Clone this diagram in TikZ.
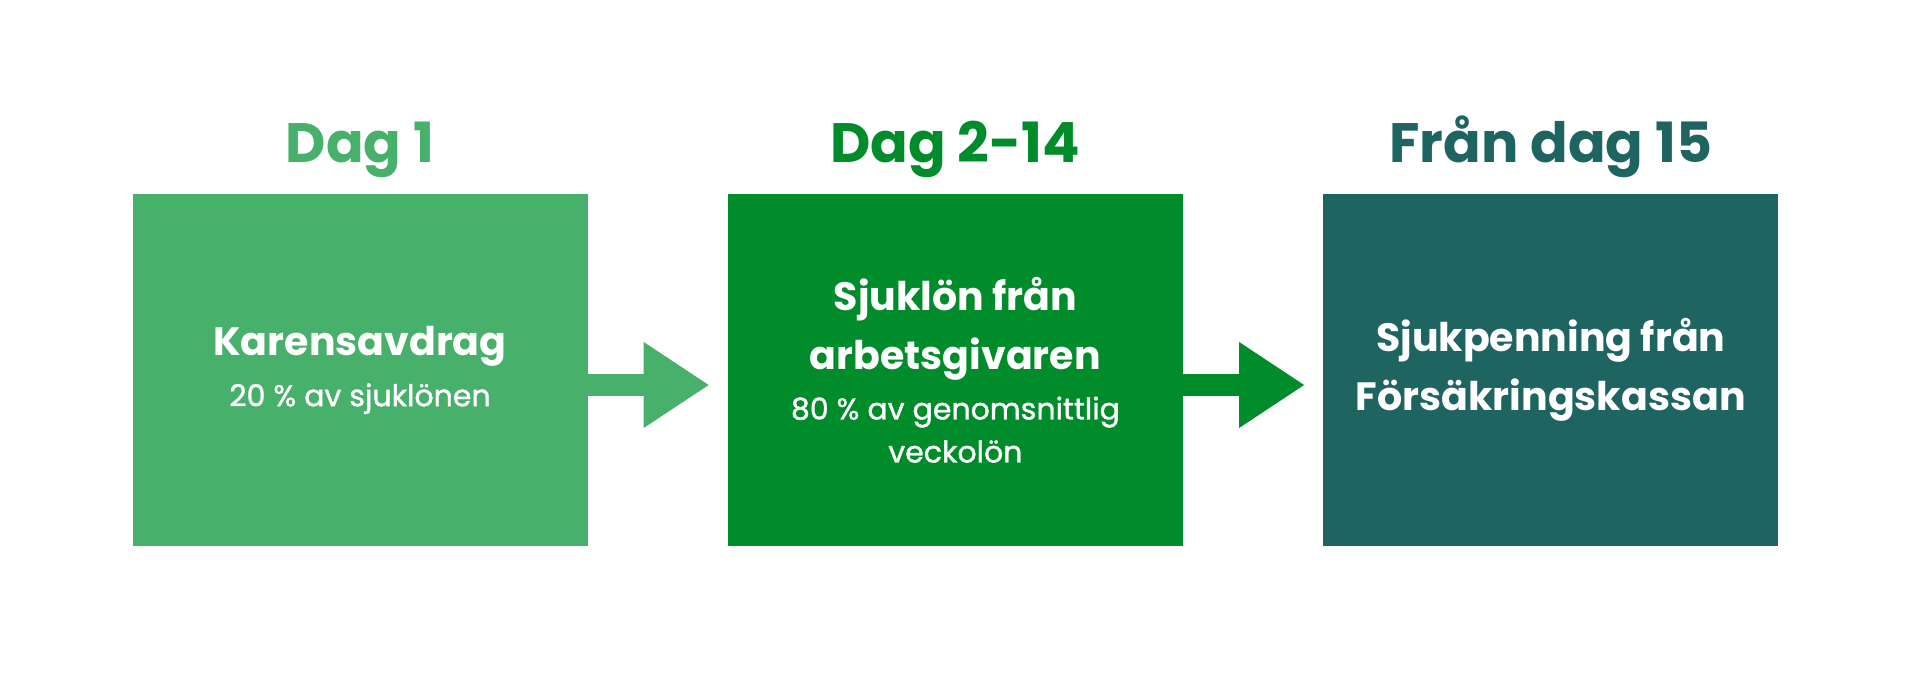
\documentclass[tikz,border=0pt]{standalone}
\usepackage{fontspec}
\setmainfont{Poppins}
\newfontfamily\medfont[FakeBold=1.3]{Poppins}
\usetikzlibrary{positioning, arrows.meta}

\definecolor{dagett}{HTML}{47B06B}
\definecolor{dagtva}{HTML}{008C2A}
\definecolor{dagfemton}{HTML}{1E6461}
\newcommand{\smalltext}[1]{{\fontsize{30}{43}\medfont\mdseries #1}}

\begin{document}
\begin{tikzpicture}[x=1pt, y=-1pt, node distance=140pt,
    box/.style={minimum width=455pt, minimum height=352pt, inner sep=0pt, align=center, text=white, font=\fontsize{39.5}{59}\selectfont\bfseries},
    title/.style={font=\fontsize{55.5}{60}\selectfont\bfseries, inner sep=0pt},
    flow/.style={line width=22pt, -{Triangle[length=65pt, width=86pt, line width=0pt]}, shorten >=19pt}]
    \fill[white] (0,0) rectangle (1920,700);
    \useasboundingbox (0,0) rectangle (1920,700);

    % the three periods
    \node[box, fill=dagett] (karens) at (360,370) {Karensavdrag\\[-8pt]\smalltext{20 \% av sjuklönen}};
    \node[box, fill=dagtva] (sjuklon) [right=of karens] {Sjuklön från\\arbetsgivaren\\[-9pt]\smalltext{80 \% av genomsnittlig}\\[-16pt]\smalltext{veckolön}};
    \node[box, fill=dagfemton] (sjukpenning) [right=of sjuklon] {Sjukpenning från\\Försäkringskassan};

    % headings
    \node[title, text=dagett] (dag1) [above=31pt of karens, anchor=base] {Dag 1};
    \node[title, text=dagtva] (dag2) [above=31pt of sjuklon, anchor=base] {Dag 2-14};
    \node[title, text=dagfemton] (dag15) [above=31pt of sjukpenning, anchor=base] {Från dag 15};

    \draw[flow, dagett] ([yshift=-15pt]karens.east) -- ([yshift=-15pt]sjuklon.west);
    \draw[flow, dagtva] ([yshift=-15pt]sjuklon.east) -- ([yshift=-15pt]sjukpenning.west);
\end{tikzpicture}
\end{document}
